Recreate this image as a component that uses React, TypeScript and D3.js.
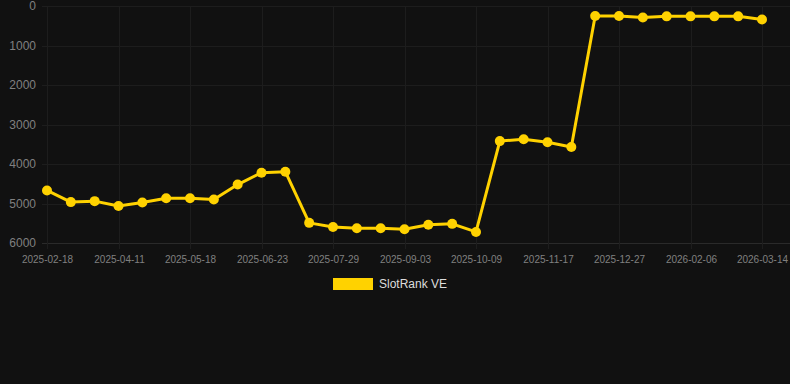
import React, { useEffect } from "react";
import * as d3 from "d3";

const categories: string[] = [
  "2025-02-18", "2025-03-06", "2025-03-24", "2025-04-11", "2025-04-23", "2025-05-06",
  "2025-05-18", "2025-05-30", "2025-06-11", "2025-06-23", "2025-07-05", "2025-07-17",
  "2025-07-29", "2025-08-10", "2025-08-22", "2025-09-03", "2025-09-15", "2025-09-27",
  "2025-10-09", "2025-10-22", "2025-11-04", "2025-11-17", "2025-11-30", "2025-12-13",
  "2025-12-27", "2026-01-09", "2026-01-23", "2026-02-06", "2026-02-18", "2026-03-02",
  "2026-03-14",
];

const rankValues: number[] = [
  4670, 4965, 4940, 5065, 4975, 4865, 4865, 4900, 4520, 4220, 4195,
  5490, 5595, 5625, 5625, 5650, 5540, 5515, 5720,
  3420, 3375, 3450, 3570,
  255, 255, 290, 262, 262, 262, 262, 340,
];

const yTicks: number[] = [0, 1000, 2000, 3000, 4000, 5000, 6000];
const seriesName = "SlotRank VE";

const W = 790;
const H = 384;
const LINE = "#FFD200";

export default function App() {
  useEffect(() => {
    document.body.style.margin = "0";
    document.body.style.background = "#111111";
  }, []);

  const x = d3.scalePoint<string>().domain(categories).range([47, 762]);
  const y = d3.scaleLinear().domain([0, 6000]).range([6, 243]);
  const labelIdx = categories.map((_, i) => i).filter((i) => i % 3 === 0);

  const line = d3
    .line<number>()
    .x((_, i) => x(categories[i]) as number)
    .y((d) => y(d));

  const font = "Arial, 'Liberation Sans', Helvetica, sans-serif";

  return (
    <svg width={W} height={H} style={{ display: "block", background: "#111111" }} fontFamily={font}>
      <rect x={0} y={0} width={W} height={H} fill="#111111" />
      {yTicks.map((t) => (
        <g key={t}>
          <line x1={42} x2={W} y1={Math.round(y(t)) + 0.5} y2={Math.round(y(t)) + 0.5} stroke={t === 6000 ? "#2a2a2a" : "#1d1d1d"} strokeWidth={1} />
          <text x={36} y={y(t)} dy="0.35em" textAnchor="end" fontSize={12} fill="#808080">
            {t}
          </text>
        </g>
      ))}
      {labelIdx.map((i) => {
        const xx = Math.round(x(categories[i]) as number) + 0.5;
        return (
          <g key={i}>
            <line x1={xx} x2={xx} y1={y(0)} y2={249} stroke="#1d1d1d" strokeWidth={1} />
            <text x={xx} y={259} dy="0.35em" textAnchor="middle" fontSize={10} fill="#808080">
              {categories[i]}
            </text>
          </g>
        );
      })}
      <path d={line(rankValues) || ""} fill="none" stroke={LINE} strokeWidth={3} strokeLinejoin="round" />
      {rankValues.map((v, i) => (
        <circle key={i} cx={x(categories[i]) as number} cy={y(v)} r={5} fill={LINE} />
      ))}
      <rect x={333} y={278} width={40} height={12} fill={LINE} />
      <text x={379} y={284} dy="0.35em" fontSize={12} fill="#dddddd">
        {seriesName}
      </text>
    </svg>
  );
}
